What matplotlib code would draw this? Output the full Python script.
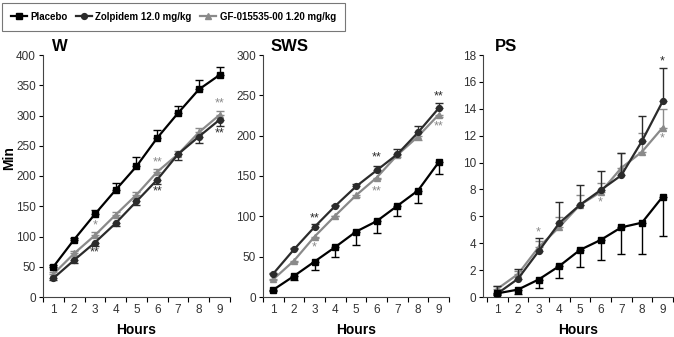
import numpy as np
import matplotlib

matplotlib.use("Agg")
import matplotlib.pyplot as plt  # noqa: E402
from matplotlib.lines import Line2D  # noqa: E402

plt.rcParams["font.family"] = ["Liberation Sans", "DejaVu Sans"]

hours = np.arange(1, 10)
series_names = ["Placebo", "Zolpidem 12.0 mg/kg", "GF-015535-00 1.20 mg/kg"]

# W (min)
w_placebo = [50, 95, 137, 177, 216, 263, 304, 343, 367]
w_placebo_err = [3, 3, 7, 11, 15, 13, 11, 16, 13]
w_zolp = [31, 61, 90, 122, 158, 194, 236, 265, 293]
w_zolp_err = [3, 4, 6, 4, 6, 7, 9, 11, 10]
w_gf = [38, 72, 102, 136, 169, 207, 236, 272, 301]
w_gf_err = [4, 4, 6, 5, 5, 5, 5, 7, 6]

# SWS (min)
sws_placebo = [9, 26, 44, 62, 81, 94, 113, 132, 167]
sws_placebo_err = [2, 5, 10, 12, 16, 15, 13, 16, 14]
sws_zolp = [29, 59, 87, 113, 137, 157, 177, 204, 234]
sws_zolp_err = [1, 2, 3, 1, 3, 6, 6, 8, 7]
sws_gf = [22, 45, 75, 101, 126, 148, 176, 199, 226]
sws_gf_err = [1, 2, 2, 1, 2, 2, 3, 4, 3]

# PS (min)
ps_placebo = [0.27, 0.55, 1.3, 2.3, 3.5, 4.24, 5.18, 5.53, 7.46]
ps_placebo_err = [0.1, 0.3, 0.6, 0.9, 1.3, 1.5, 2.0, 2.3, 2.9]
ps_zolp = [0.25, 1.35, 3.4, 5.5, 6.85, 7.95, 9.05, 11.6, 14.55]
ps_zolp_err = [0.55, 0.75, 1.0, 1.55, 1.5, 1.45, 1.65, 1.9, 2.45]
ps_gf = [0.6, 1.7, 3.7, 5.2, 6.85, 7.8, 9.6, 10.8, 12.6]
ps_gf_err = [0.2, 0.2, 0.5, 0.75, 0.7, 0.7, 1.1, 1.4, 1.4]

# significance marks: (hour, value, text, series index)
w_stars = [(3, 118, "*", 2), (3, 74, "**", 1), (6, 222, "**", 2), (6, 175, "**", 1),
           (9, 320, "**", 2), (9, 270, "**", 1)]
sws_stars = [(3, 98, "**", 1), (3, 61, "*", 2), (6, 173, "**", 1), (6, 131, "**", 2),
             (9, 249, "**", 1), (9, 212, "**", 2)]
ps_stars = [(3, 4.8, "*", 2), (6, 7.0, "*", 2), (9, 17.5, "*", 1), (9, 11.8, "*", 2)]

colors = ["#000000", "#2b2b2b", "#8a8a8a"]
markers = ["s", "o", "^"]
msizes = [4.5, 4.2, 5.0]

# direction of one-sided error bars per panel: +1 up, -1 down
panels = [
    ("W", [w_placebo, w_zolp, w_gf], [w_placebo_err, w_zolp_err, w_gf_err], [1, -1, 1],
     w_stars, (0, 400), 50, 0.0638, 0.2774, (0.5, 9.5), 0.05),
    ("SWS", [sws_placebo, sws_zolp, sws_gf], [sws_placebo_err, sws_zolp_err, sws_gf_err], [-1, 1, -1],
     sws_stars, (0, 300), 50, 0.3902, 0.2760, (0.5, 9.5), 0.04),
    ("PS", [ps_placebo, ps_zolp, ps_gf], [ps_placebo_err, ps_zolp_err, ps_gf_err], [-1, 1, 1],
     ps_stars, (0, 18), 2, 0.7166, 0.2819, (0.31, 9.5), 0.063),
]

fig = plt.figure(figsize=(6.74, 3.37), dpi=100)
bottom, height = 1 - 297 / 337, 242 / 337

for i, (title, vals, errs, dirs, stars, ylim, ystep, left, width, xlim, tx) in enumerate(panels):
    ax = fig.add_axes([left, bottom, width, height])
    for k in range(3):
        e = np.array(errs[k])
        z = np.zeros_like(e)
        yerr = [z, e] if dirs[k] > 0 else [e, z]
        ax.errorbar(hours, vals[k], yerr=yerr, color=colors[k], ecolor=colors[k],
                    elinewidth=1.0, capsize=3, capthick=1.0, lw=1.6,
                    marker=markers[k], ms=msizes[k], zorder=3 + (2 - k))
    for h, v, s, k in stars:
        ax.text(h, v, s, ha="center", va="center", fontsize=9, color=colors[k])
    ax.set_xlim(*xlim)
    ax.set_ylim(*ylim)
    ax.set_yticks(np.arange(ylim[0], ylim[1] + ystep / 2, ystep))
    ax.set_xticks(np.arange(0.5, 10, 1.0))
    ax.set_xticklabels([])
    ax.set_xticks(hours, minor=True)
    ax.set_xticklabels([str(h) for h in hours], minor=True)
    ax.tick_params(axis="x", which="minor", length=0, pad=5, labelsize=8.5, colors="#333333")
    ax.tick_params(axis="x", which="major", length=3.5, width=0.8, direction="out")
    ax.tick_params(axis="y", length=3, width=0.8, labelsize=8.5, labelcolor="#333333", pad=2)
    for sp in ("top", "right"):
        ax.spines[sp].set_visible(False)
    for sp in ("left", "bottom"):
        ax.spines[sp].set_linewidth(0.8)
        ax.spines[sp].set_color("#444444")
    ax.text(tx, 1.005, title, transform=ax.transAxes, ha="left", va="bottom",
            fontsize=12, fontweight="bold")
    cx = left + width / 2
    fig.text(cx, 1 - 330 / 337, "Hours", ha="center", va="center", fontsize=10,
             fontweight="bold")

fig.text(9 / 674, 1 - 158 / 337, "Min", rotation=90, ha="center", va="center",
         fontsize=10, fontweight="bold")

handles = [Line2D([], [], color=colors[k], marker=markers[k], ms=msizes[k], lw=1.6)
           for k in range(3)]
leg = fig.legend(handles, series_names, loc="center", bbox_to_anchor=(0.257, 0.95),
                 ncol=3, fontsize=7, frameon=True, fancybox=False, handlelength=1.7,
                 handletextpad=0.35, columnspacing=0.8, borderpad=0.9, borderaxespad=0)
leg.get_frame().set_edgecolor("#555555")
leg.get_frame().set_linewidth(0.8)
for t in leg.get_texts():
    t.set_fontweight("bold")

fig.savefig("out.png", dpi=100)
plt.close(fig)
